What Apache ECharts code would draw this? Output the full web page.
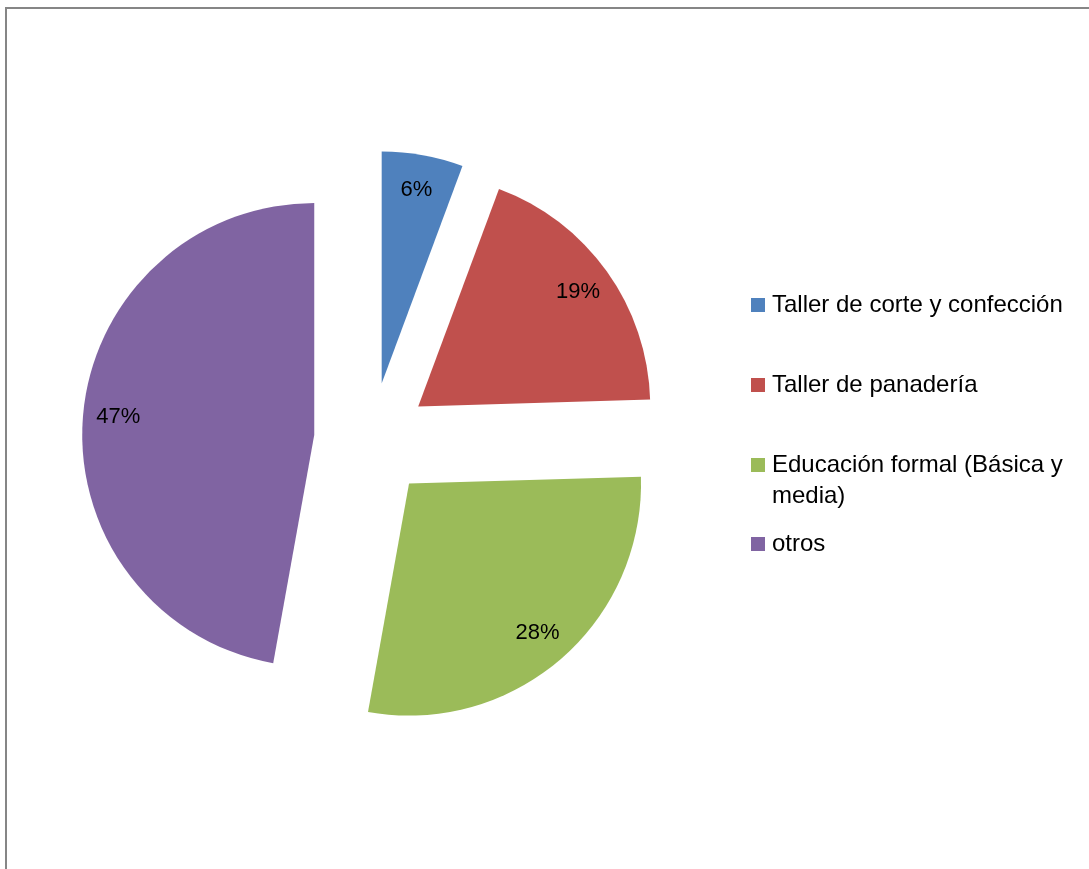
<!DOCTYPE html>
<html>
<head>
<meta charset="utf-8">
<script src="https://cdn.jsdelivr.net/npm/echarts@6/dist/echarts.min.js"></script>
<style>
  html, body { margin: 0; padding: 0; background: #fff; }
  #chart { width: 1089px; height: 869px; }
</style>
</head>
<body>
<div id="chart"></div>
<script>
// Participantes por tipo de formación (número de personas)
const categories = [
  'Taller de corte y confección',
  'Taller de panadería',
  'Educación formal (Básica y media)',
  'otros'
];
const counts = [3, 10, 15, 25];
const colors = ['#4F81BD', '#C0504D', '#9BBB59', '#8064A2'];

const FONT = '"Liberation Sans", Arial, sans-serif';
const CENTER = [371.5, 440];
const RADIUS = 232;
const EXPLODE = 57.5;

const sliceData = categories.map((name, i) => ({
  name,
  value: counts[i],
  selected: true,
  itemStyle: { color: colors[i] },
  select: { itemStyle: { color: colors[i] } }
}));

// transparent ring carrying the percentage labels near the outer edge
const labelData = categories.map((name, i) => ({
  name,
  value: counts[i],
  selected: true
}));

// legend text: long names wrap after "y"; the first line stays level with the swatch
function legendText(name) {
  const parts = name.split(' y media');
  return parts.length > 1 ? '\n' + parts[0] + ' y\nmedia' + parts[1] : name;
}

// one legend block per category so each row keeps its own spacing
const legendTops = [289.5, 369.5, 418.5, 528.5];
const legends = categories.map((name, i) => ({
  data: [name],
  orient: 'vertical',
  left: 751,
  top: legendTops[i],
  padding: 0,
  icon: 'rect',
  itemWidth: 14,
  itemHeight: 14,
  selectedMode: false,
  formatter: legendText,
  textStyle: {
    fontFamily: FONT,
    fontSize: 24,
    lineHeight: 31,
    color: '#000',
    padding: [0, 0, 0, 2]
  }
}));

const chart = echarts.init(document.getElementById('chart'), null, { renderer: 'canvas' });
chart.setOption({
  animation: false,
  backgroundColor: '#fff',
  legend: legends,
  graphic: [{
    type: 'rect',
    shape: { x: 6, y: 8, width: 1120, height: 900 },
    style: { fill: 'none', stroke: '#868686', lineWidth: 2 },
    silent: true,
    z: 100
  }],
  series: [
    {
      type: 'pie',
      center: CENTER,
      radius: [0, RADIUS],
      startAngle: 90,
      clockwise: true,
      selectedMode: 'multiple',
      selectedOffset: EXPLODE,
      silent: true,
      label: { show: false },
      labelLine: { show: false },
      emphasis: { disabled: true, scale: false },
      data: sliceData
    },
    {
      type: 'pie',
      center: CENTER,
      radius: [RADIUS * 0.67, RADIUS],
      startAngle: 90,
      clockwise: true,
      selectedMode: 'multiple',
      selectedOffset: EXPLODE,
      silent: true,
      legendHoverLink: false,
      itemStyle: { color: 'transparent' },
      select: { itemStyle: { color: 'transparent' } },
      emphasis: { disabled: true, scale: false },
      label: {
        show: true,
        position: 'inside',
        fontFamily: FONT,
        fontSize: 22,
        color: '#000',
        formatter: p => Math.round(p.percent) + '%'
      },
      labelLine: { show: false },
      data: labelData
    }
  ]
});
</script>
</body>
</html>
